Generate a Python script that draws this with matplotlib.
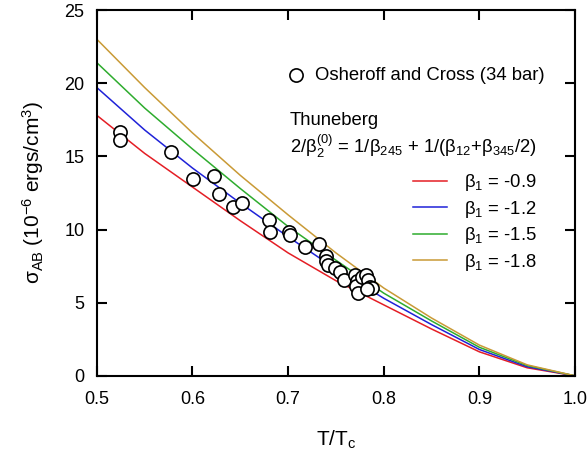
import matplotlib
matplotlib.use("Agg")
import matplotlib.pyplot as plt

# model curves (Thuneberg) at 0.05 steps
T_CURVE = [0.50, 0.55, 0.60, 0.65, 0.70, 0.75, 0.80, 0.85, 0.90, 0.95, 1.00]
SIG_B09 = [17.8, 15.2, 12.9, 10.6, 8.4, 6.5, 4.85, 3.2, 1.64, 0.55, 0.0]
SIG_B12 = [19.7, 16.8, 14.2, 11.8, 9.5, 7.3, 5.3, 3.5, 1.80, 0.62, 0.0]
SIG_B15 = [21.4, 18.3, 15.5, 12.8, 10.2, 7.9, 5.65, 3.75, 1.95, 0.70, 0.0]
SIG_B18 = [23.0, 19.7, 16.6, 13.7, 11.0, 8.4, 6.0, 3.95, 2.10, 0.75, 0.0]

# Osheroff and Cross (34 bar)
T_DATA = [0.524, 0.524, 0.578, 0.601, 0.622, 0.628, 0.642, 0.652, 0.680, 0.681,
          0.701, 0.702, 0.718, 0.732, 0.740, 0.740, 0.742, 0.749, 0.754, 0.758,
          0.770, 0.772, 0.771, 0.773, 0.777, 0.781, 0.784, 0.786, 0.788, 0.782]
SIG_DATA = [16.69, 16.12, 15.32, 13.43, 13.66, 12.41, 11.56, 11.79, 10.63, 9.86,
            9.86, 9.60, 8.83, 9.04, 8.22, 7.85, 7.58, 7.36, 7.12, 6.56,
            6.90, 6.50, 6.15, 5.65, 6.78, 6.90, 6.56, 6.10, 5.99, 5.90]

CURVES = [
    (SIG_B09, "#e41e25", "-0.9"),
    (SIG_B12, "#1f22d8", "-1.2"),
    (SIG_B15, "#2eac2e", "-1.5"),
    (SIG_B18, "#c99a36", "-1.8"),
]

plt.rcParams.update({
    "font.family": "Liberation Sans",
    "mathtext.fontset": "custom",
    "mathtext.rm": "Liberation Sans",
    "mathtext.it": "Liberation Sans:italic",
    "mathtext.bf": "Liberation Sans:bold",
    "font.size": 13,
})

fig = plt.figure(figsize=(5.87, 4.55), dpi=100)
ax = fig.add_axes([0.165, 0.174, 0.8146, 0.804])

line_handles = []
for sig, col, b1 in CURVES:
    h, = ax.plot(T_CURVE, sig, color=col, linewidth=1.1, label=f"β$_1$ = {b1}")
    line_handles.append(h)

ax.plot(T_DATA, SIG_DATA, linestyle="none", marker="o", markersize=9.5,
        markerfacecolor="white", markeredgecolor="black", markeredgewidth=1.2)

ax.set_xlim(0.5, 1.0)
ax.set_ylim(0, 25)
ax.set_xticks([0.5, 0.6, 0.7, 0.8, 0.9, 1.0])
ax.set_xticklabels(["0.5", "0.6", "0.7", "0.8", "0.9", "1.0"])
ax.set_yticks([0, 5, 10, 15, 20, 25])
ax.tick_params(direction="in", length=7, width=1.5, top=True, right=True,
               labelsize=13)
ax.tick_params(axis="x", pad=11)
ax.tick_params(axis="y", pad=9)
for sp in ax.spines.values():
    sp.set_linewidth(1.5)

ax.set_xlabel("T/T$_{\\rm c}$", fontsize=15, labelpad=15)
ax.set_ylabel("σ$_{\\rm AB}$ (10$^{-6}$ ergs/cm$^3$)", fontsize=15, labelpad=13)

# data key at the top
ax.plot([0.416], [0.822], transform=ax.transAxes, linestyle="none", marker="o",
        markersize=9.5, markerfacecolor="white", markeredgecolor="black",
        markeredgewidth=1.2, clip_on=False)
ax.text(0.456, 0.809, "Osheroff and Cross (34 bar)", transform=ax.transAxes,
        fontsize=13.3, va="baseline")

ax.text(0.404, 0.686, "Thuneberg", transform=ax.transAxes, fontsize=13.3,
        va="baseline")
ax.text(0.404, 0.609, "2/β$_2^{(0)}$ = 1/β$_{245}$ + 1/(β$_{12}$+β$_{345}$/2)",
        transform=ax.transAxes, fontsize=13.3, va="baseline")

ax.legend(handles=line_handles, loc="upper left", bbox_to_anchor=(0.661, 0.557),
          frameon=False, fontsize=13.3, handlelength=1.83, handletextpad=0.95,
          labelspacing=0.3, borderpad=0, borderaxespad=0)

fig.savefig("out.png", dpi=100)
